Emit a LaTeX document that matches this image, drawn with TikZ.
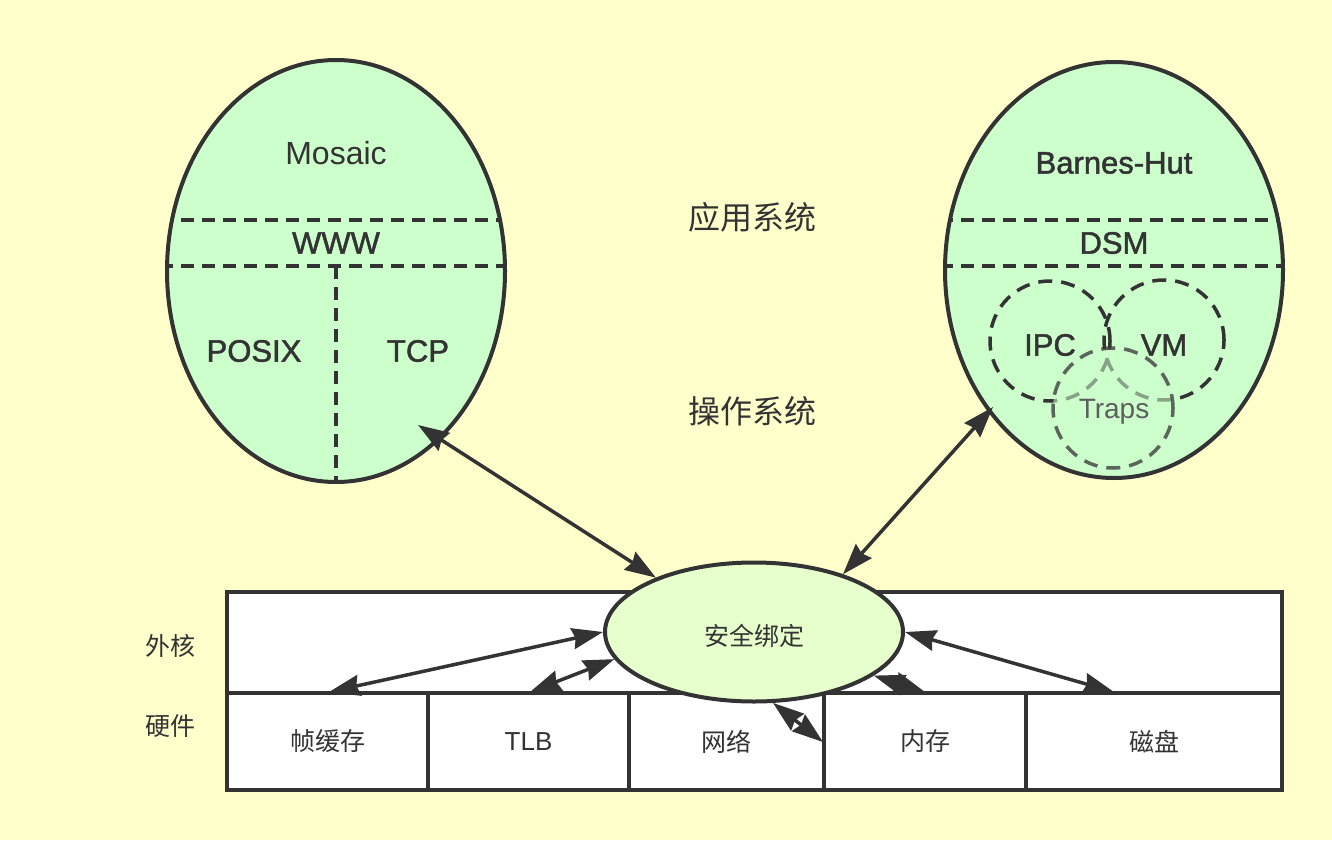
\documentclass[tikz,border=0pt]{standalone}
\usepackage{fontspec}
\usetikzlibrary{arrows.meta,shapes.geometric}
\newfontfamily\cjk{Noto Sans CJK SC}
\newfontfamily\lat{Liberation Sans}
\newfontfamily\latm[FakeBold=1.6]{Liberation Sans}
\definecolor{bg}{HTML}{FFFFCC}
\definecolor{lgreen}{HTML}{CCFFCC}
\definecolor{sgreen}{HTML}{E6FFCC}
\definecolor{ink}{HTML}{333333}
\definecolor{grayink}{HTML}{5E5E5E}
\begin{document}
\begin{tikzpicture}[x=1pt,y=-1pt,
  bigoval/.style={ellipse, draw=ink, fill=lgreen, line width=4pt, inner sep=0pt, minimum width=338pt, minimum height=420pt},
  divline/.style={draw=ink, line width=4pt, dash pattern=on 13pt off 8pt},
  ring/.style={circle, draw=ink, line width=3.5pt, dash pattern=on 14pt off 9pt, minimum size=120pt, inner sep=0pt},
  cell/.style={rectangle, draw=ink, line width=4pt, fill=white, inner sep=0pt, minimum height=97pt, text=ink, font=\cjk\fontsize{25}{27}\selectfont},
  lbl/.style={text=ink, inner sep=0pt, font=\latm\fontsize{31}{33}\selectfont},
  lblr/.style={text=ink, inner sep=0pt, font=\lat\fontsize{32}{34}\selectfont},
  cjklbl/.style={text=ink, inner sep=0pt, font=\cjk\fontsize{32}{34}\selectfont},
  sidelbl/.style={text=ink, inner sep=0pt, font=\cjk\fontsize{25}{27}\selectfont},
  arr/.style={draw=ink, line width=3.5pt, {Stealth[length=31pt,width=21pt,inset=3pt]}-{Stealth[length=31pt,width=21pt,inset=3pt]}}
]
\useasboundingbox (0,0) rectangle (1332,840);
\fill[bg] (0,0) rectangle (1332,840);

% ---------- left oval ----------
\node[bigoval, minimum height=422pt] (left) at (336,271) {};
\begin{scope}
  \clip (336,271) ellipse [x radius=168, y radius=210];
  \draw[divline] (160,220) -- (512,220);
  \draw[divline] (160,266) -- (512,266);
  \draw[divline] (336,266) -- (336,490);
\end{scope}
\node[lblr] (mosaic) at (336,153) {Mosaic};
\node[lbl] (www) at (336,243) {WWW};
\node[lbl] (posix) at (254,351) {POSIX};
\node[lbl] (tcp) at (418,351) {TCP};

% ---------- right oval ----------
\node[bigoval, minimum height=416pt] (right) at (1114,270) {};
\begin{scope}
  \clip (1114,270) ellipse [x radius=168, y radius=207];
  \draw[divline] (940,220) -- (1290,220);
  \draw[divline] (940,266) -- (1290,266);
\end{scope}
\node[lbl] (bh) at (1114,163) {Barnes-Hut};
\node[lbl] (dsm) at (1114,243) {DSM};
\node[ring] (ipc) at (1050,341) {};
\node[ring] (vm) at (1164,340) {};
\node[lbl] at (ipc.center) [yshift=-4pt] {IPC};
\node[lbl] at (vm.center) [yshift=-5pt] {VM};
\node[ring, fill=lgreen, fill opacity=0.55, draw opacity=0.75] (traps) at (1113,408) {};
\node[text=grayink, inner sep=0pt, font=\lat\fontsize{28}{30}\selectfont] at (1114,412) {Traps};

% ---------- middle labels ----------
\node[cjklbl] (app) at (752,217) {应用系统};
\node[cjklbl] (os) at (752,411) {操作系统};

% ---------- exokernel / hardware ----------
\node[rectangle, draw=ink, line width=4pt, fill=white, minimum width=1055pt, minimum height=101pt, inner sep=0pt] (exo) at (754.5,642.5) {};
\node[cell, minimum width=201pt] (fb) at (327.5,741.5) {帧缓存};
\node[cell, minimum width=201pt, font=\lat\fontsize{26}{28}\selectfont] (tlb) at (528.5,741.5) {TLB};
\node[cell, minimum width=195pt] (net) at (726.5,741.5) {网络};
\node[cell, minimum width=202pt] (mem) at (925,741.5) {内存};
\node[cell, minimum width=256pt] (disk) at (1154,741.5) {磁盘};
\node[sidelbl] (exolbl) at (170,646) {外核};
\node[sidelbl] (hwlbl) at (170,726) {硬件};

\node[ellipse, draw=ink, fill=sgreen, line width=4pt, inner sep=0pt, minimum width=298pt, minimum height=139pt, text=ink] (sec) at (754,632) {};
\node[sidelbl] at (754,636) {安全绑定};

% ---------- connectors ----------
\coordinate (tcpend) at (418,425);
\coordinate (trapsend) at (993,407);
\coordinate (diskend) at (1114,692);
\coordinate (fbend) at (329,692);
\coordinate (tlbend) at (530,692);
\coordinate (netend) at (823,742);
\coordinate (memend) at (925,692);
\draw[arr] (tcpend) -- (sec.151);
\draw[arr] (trapsend) -- (sec.33);
\draw[arr] (fbend) -- (sec.west);
\draw[arr] (tlbend) -- (sec.191);
\draw[arr] (sec.285) -- (netend);
\draw[arr] (sec.340) -- (memend);
\draw[arr] (sec.east) -- (diskend);
\end{tikzpicture}
\end{document}
